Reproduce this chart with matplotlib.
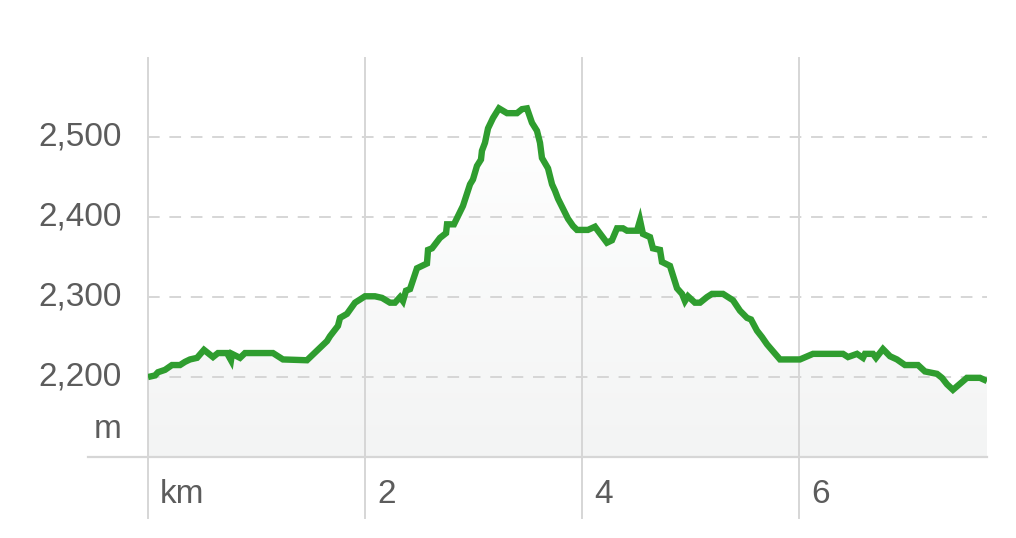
import matplotlib
matplotlib.use("Agg")
import matplotlib.pyplot as plt
import numpy as np

# profil trasy: vzdalenost (km) a nadmorska vyska (m)
dist_km = [0.000, 0.065, 0.092, 0.157, 0.221, 0.295, 0.341, 0.387, 0.452, 0.516,
           0.599, 0.645, 0.728, 0.765, 0.774, 0.848, 0.894, 1.152, 1.244, 1.465,
           1.650, 1.677, 1.751, 1.770, 1.834, 1.908, 2.000, 2.092, 2.157, 2.230,
           2.276, 2.323, 2.350, 2.378, 2.415, 2.479, 2.571, 2.581, 2.618, 2.691,
           2.747, 2.756, 2.820, 2.903, 2.968, 2.995, 3.032, 3.069, 3.078, 3.106,
           3.134, 3.180, 3.235, 3.309, 3.401, 3.447, 3.493, 3.539, 3.585, 3.613,
           3.631, 3.687, 3.724, 3.751, 3.779, 3.871, 3.917, 3.954, 4.055, 4.120,
           4.147, 4.230, 4.276, 4.323, 4.378, 4.415, 4.507, 4.535, 4.562, 4.627,
           4.654, 4.719, 4.737, 4.811, 4.876, 4.922, 4.949, 4.977, 5.041, 5.088,
           5.152, 5.198, 5.300, 5.392, 5.456, 5.521, 5.558, 5.613, 5.659, 5.705,
           5.825, 6.009, 6.129, 6.406, 6.452, 6.535, 6.590, 6.608, 6.682, 6.710,
           6.774, 6.839, 6.903, 6.977, 7.097, 7.161, 7.272, 7.318, 7.364, 7.419,
           7.548, 7.668, 7.733]
elev_m = [2200, 2202, 2206, 2209, 2215, 2215, 2219, 2222, 2224, 2234,
          2225, 2230, 2230, 2221, 2229, 2224, 2230, 2230, 2222, 2221,
          2245, 2251, 2264, 2274, 2279, 2293, 2301, 2301, 2299, 2293,
          2293, 2300, 2295, 2308, 2310, 2336, 2342, 2359, 2361, 2374,
          2380, 2391, 2391, 2414, 2441, 2447, 2464, 2472, 2483, 2493,
          2511, 2524, 2536, 2530, 2530, 2535, 2536, 2518, 2508, 2493,
          2474, 2461, 2441, 2433, 2423, 2398, 2389, 2384, 2384, 2388,
          2383, 2368, 2371, 2386, 2386, 2383, 2383, 2396, 2379, 2375,
          2361, 2359, 2344, 2339, 2311, 2304, 2295, 2301, 2293, 2293,
          2300, 2304, 2304, 2296, 2283, 2274, 2272, 2258, 2250, 2241,
          2222, 2222, 2229, 2229, 2225, 2229, 2224, 2229, 2229, 2224,
          2235, 2226, 2222, 2215, 2215, 2207, 2204, 2199, 2191, 2184,
          2199, 2199, 2195]

y_ticks = [2200, 2300, 2400, 2500]
x_ticks = [0, 2, 4, 6]
x_labels = ["km", "2", "4", "6"]

green = "#2f9d2f"
grid_col = "#d6d6d6"
text_col = "#5c5c5c"
plt.rcParams["font.family"] = ["Liberation Sans", "DejaVu Sans"]

fig = plt.figure(figsize=(10.16, 5.38), dpi=100)
ax = fig.add_axes([148 / 1016, 1 - 457 / 538, 839 / 1016, 399 / 538])
x0, x1 = 0, dist_km[-1]
y0, y1 = 2100, 2599
ax.set_xlim(x0, x1)
ax.set_ylim(y0, y1)
ax.axis("off")

# prechodova vypln pod krivkou (nahore bila, dole seda)
poly = ax.fill_between(dist_km, elev_m, y0, color="none", lw=0)
grad = np.linspace(0, 1, 256).reshape(-1, 1)
img = ax.imshow(grad, extent=[x0, x1, y0, max(elev_m)], aspect="auto",
                cmap=matplotlib.colors.LinearSegmentedColormap.from_list(
                    "g", ["#ffffff", "#f3f4f4"]), vmin=0, vmax=1, zorder=1)
img.set_clip_path(poly.get_paths()[0], transform=ax.transData)

# mrizka
for yv in y_ticks:
    ax.plot([x0, x1], [yv, yv], color=grid_col, lw=1.4, dashes=(6, 5), zorder=2)
for xv in x_ticks:
    ax.plot([xv, xv], [y1, y0 - 61 / 0.8], color=grid_col, lw=1.4,
            clip_on=False, zorder=2)
ax.plot([-60 / 108.5, x1], [y0, y0], color=grid_col, lw=1.6, clip_on=False, zorder=2)

ax.plot(dist_km, elev_m, color=green, lw=4.6, solid_joinstyle="miter",
        solid_capstyle="butt", zorder=3)

# popisky
for yv in y_ticks:
    ax.text(-26 / 108.5, yv, f"{yv:,}", ha="right", va="center", fontsize=24,
            color=text_col)
ax.text(-26 / 108.5, 2134, "m", ha="right", va="center", fontsize=24, color=text_col)
for xv, lab in zip(x_ticks, x_labels):
    ax.text(xv + 12 / 108.5, y0 - 38 / 0.8, lab, ha="left", va="center",
            fontsize=24, color=text_col)

fig.savefig("out.png", dpi=100, facecolor="white")
